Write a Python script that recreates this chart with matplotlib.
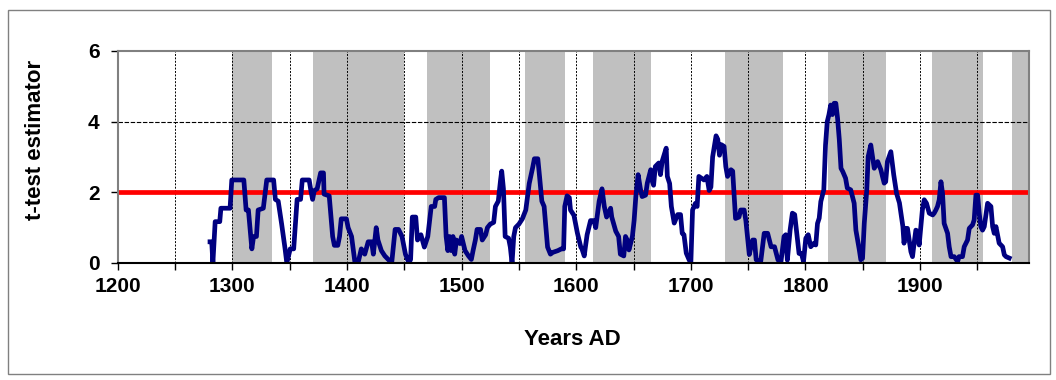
import matplotlib
matplotlib.use("Agg")
from matplotlib import pyplot as plt
from matplotlib.patches import Rectangle

plt.rcParams['font.family'] = ['Liberation Sans', 'DejaVu Sans']
plt.rcParams['font.weight'] = 'bold'

# years AD and t-test values
years = [1280.5, 1282, 1283, 1285, 1289, 1290, 1298, 1299.5, 1310, 1312, 1314, 1317, 1318.5, 1321,
         1322.5, 1327, 1330, 1336, 1337.5, 1340, 1343, 1346, 1347.5, 1350.5, 1353.5, 1356.5,
         1359.5, 1361, 1367, 1368.5, 1370, 1371.5, 1374, 1377,
         1379.5, 1380, 1384.5, 1387.5, 1389, 1392, 1393.5, 1395, 1399.5, 1401, 1404, 1407, 1410,
         1412.5, 1415.5, 1418.5, 1421.5, 1423, 1425.5, 1427, 1430, 1433, 1436, 1439, 1442, 1445,
         1448, 1451, 1454, 1455.5, 1457, 1460, 1461.5, 1464.5, 1467.5, 1470.5, 1473.5, 1476.5,
         1477.5, 1480, 1485, 1486.5, 1488, 1489.5, 1491, 1492.5, 1494, 1495.5, 1498.5, 1500, 1503,
         1506, 1508.5, 1510, 1512, 1513.5, 1516.5, 1518, 1521, 1522.5, 1525, 1528, 1529.5, 1532,
         1534, 1535, 1536.5, 1538, 1541, 1542.5, 1544, 1545.5, 1547, 1550, 1553, 1556, 1559, 1562,
         1563.5, 1566.5, 1568, 1570, 1572, 1575, 1577.5,
         1579.5, 1584, 1587, 1589, 1590, 1592, 1594, 1595, 1598, 1601, 1604, 1605, 1607, 1608,
         1609.5, 1612.5, 1615.5, 1617, 1620, 1622.5, 1624.5, 1626.5, 1630, 1631, 1634.5, 1637,
         1638.5, 1641.5, 1643, 1644.5, 1646, 1649, 1650.5, 1652, 1654, 1656, 1657.5, 1660.5, 1662,
         1665, 1666, 1667.5, 1669, 1672, 1673.5, 1675, 1678,
         1678.5, 1679.5, 1681.5, 1683, 1685.5, 1688.5, 1691, 1692.5, 1694, 1696, 1698.5, 1700,
         1701.5, 1704, 1705.5, 1707, 1711.5, 1714, 1716, 1717.5, 1719, 1722, 1723.5, 1725, 1726.5,
         1729, 1730.5, 1732, 1735, 1736.5, 1739, 1742, 1743.5, 1746.5, 1748, 1751, 1752.5, 1754,
         1755.5, 1757, 1761, 1764, 1767, 1770, 1773, 1776, 1778.5,
         1781.3, 1782.8, 1784.2, 1786.6, 1788.6, 1790.6, 1792.4, 1794.4, 1796.5, 1798.3, 1800.3,
         1802.4, 1804.6, 1807.5, 1809, 1810.5, 1812, 1813.4, 1816, 1817.5, 1819, 1820.5, 1822,
         1823.5, 1825, 1826.5, 1828, 1829.5, 1831, 1832.5, 1835, 1836.5, 1839.5, 1842.5, 1844,
         1847, 1848.3, 1849.8, 1851.3, 1853.5, 1854.7, 1857, 1858.5, 1860, 1863, 1865.8, 1867.2,
         1868.7, 1870, 1871.5, 1874.5, 1877, 1879.5, 1882,
         1885, 1886, 1887.6, 1889, 1890.5, 1892, 1893.4, 1894.8, 1896.3, 1897.7, 1899.2, 1900.7,
         1902, 1903.6, 1905.6, 1908, 1911, 1912.3, 1913.8, 1915.2, 1916.7, 1918.2, 1919.6, 1921,
         1924, 1925.4, 1927, 1929.8, 1932.7, 1934, 1937, 1938.5, 1941.4, 1942.9, 1945.8, 1947.2,
         1948.7, 1950.2, 1951.6, 1953, 1954.5, 1956, 1958.9, 1961.8, 1963.3, 1964.7, 1966.2, 1969,
         1972, 1973.5, 1975, 1977.8]
tvals = [0.6, 0.6, 0.0, 1.17, 1.17, 1.55, 1.55, 2.35, 2.35, 1.5, 1.5, 0.4, 0.75, 0.75,
         1.5, 1.55, 2.35, 2.35, 1.8, 1.75, 1.1, 0.4, 0.0, 0.4, 0.4, 1.8,
         1.8, 2.35, 2.35, 2.05, 1.8, 2.05, 2.1, 2.55,
         2.55, 1.95, 1.9, 0.75, 0.5, 0.5, 0.75, 1.25, 1.25, 1.0, 0.75, 0.0, 0.05,
         0.4, 0.25, 0.6, 0.6, 0.25, 1.0, 0.65, 0.35, 0.2, 0.1, 0.0, 0.95, 0.95,
         0.75, 0.25, 0.0, 0.1, 1.3, 1.3, 0.65, 0.8, 0.45, 0.75, 1.6, 1.6,
         1.8, 1.85, 1.85, 0.75, 0.35, 0.75, 0.35, 0.75, 0.25, 0.65, 0.55, 0.75, 0.35,
         0.2, 0.1, 0.35, 0.65, 0.95, 0.95, 0.65, 0.8, 1.0, 1.1, 1.15, 1.6, 1.75,
         2.35, 2.6, 2.1, 0.75, 0.7, 0.45, 0.0, 0.75, 1.0, 1.1, 1.25, 1.5, 2.25, 2.7,
         2.95, 2.95, 2.45, 1.75, 1.6, 0.45, 0.25,
         0.3, 0.35, 0.4, 0.4, 1.6, 1.9, 1.85, 1.5, 1.35, 0.85, 0.45, 0.4, 0.2, 0.45,
         0.8, 1.2, 1.2, 1.0, 1.75, 2.1, 1.6, 1.3, 1.55, 1.3, 0.9, 0.75,
         0.25, 0.2, 0.75, 0.65, 0.37, 0.75, 1.2, 1.88, 2.5, 2.1, 1.88, 1.92, 2.26,
         2.64, 2.35, 2.2, 2.73, 2.83, 2.5, 2.88, 3.2,
         3.25, 2.45, 2.25, 1.6, 1.13, 1.37, 1.37, 0.84, 0.8, 0.28, 0.09, 0.0,
         1.5, 1.69, 1.6, 2.45, 2.35, 2.45, 2.05, 2.15, 3.0, 3.6, 3.5, 3.05, 3.35,
         3.3, 2.73, 2.45, 2.64, 2.6, 1.26, 1.3, 1.5, 1.5, 1.2, 0.24, 0.46, 0.65,
         0.65, 0.09, 0.05, 0.84, 0.84, 0.46, 0.46, 0.09, 0.0,
         0.75, 0.8, 0.08, 0.93, 1.41, 1.37, 0.84, 0.27, 0.27, 0.04, 0.7,
         0.8, 0.46, 0.56, 0.51, 1.12, 1.27, 1.74, 2.07, 3.34, 4.0, 4.2, 4.47,
         4.2, 4.52, 4.52, 4.1, 3.5, 2.68, 2.59, 2.4, 2.12, 2.07, 1.69, 0.93,
         0.37, 0.09, 0.13, 1.12, 2.07, 3.01, 3.34, 3.01, 2.68, 2.87, 2.64, 2.45,
         2.26, 2.3, 2.87, 3.15, 2.5, 1.97, 1.7,
         1.03, 0.56, 0.98, 0.98, 0.65, 0.32, 0.18, 0.56, 0.93, 0.9, 0.51, 1.03,
         1.5, 1.79, 1.69, 1.41, 1.36, 1.41, 1.5, 1.6, 1.79, 2.3, 1.97, 1.12,
         0.84, 0.46, 0.18, 0.18, 0.04, 0.18, 0.18, 0.46, 0.65, 0.98, 1.08, 1.22,
         1.92, 1.92, 1.41, 1.03, 0.93, 1.03, 1.69, 1.6, 1.03, 0.84, 1.03, 0.56,
         0.46, 0.23, 0.18, 0.14]

# shaded periods (start, end)
band_start = [1300, 1370, 1470, 1555, 1615, 1730, 1820, 1910, 1980]
band_end = [1335, 1450, 1525, 1590, 1665, 1780, 1870, 1955, 1995]

threshold = 2.0

fig = plt.figure(figsize=(10.56, 3.8), dpi=100)
ax = fig.add_axes([0.1115, 0.3079, 0.8629, 0.5579])

for s, e in zip(band_start, band_end):
        ax.axvspan(s, e, facecolor="#c0c0c0", edgecolor="none", zorder=1)

for x in range(1250, 2000, 50):
        ax.axvline(x, color="black", linestyle=(0, (2, 1.5)), linewidth=0.7, zorder=2)
for y in [2, 4]:
        ax.axhline(y, color="black", linestyle=(0, (4, 1.5)), linewidth=0.8, zorder=2)

ax.axhline(threshold, color="#ff0000", linewidth=3.4, zorder=3)
ax.plot(years, tvals, color="#000080", linewidth=3.4, zorder=4, solid_joinstyle="round")

ax.set_xlim(1200, 1995)
ax.set_ylim(0, 6)
ax.set_xticks(range(1200, 2000, 100))
ax.set_xticks(range(1250, 2000, 100), minor=True)
ax.set_yticks([0, 2, 4, 6])
ax.tick_params(axis="both", which="both", direction="out", length=5, width=1, colors="black",
               labelsize=15)
ax.tick_params(axis="x", pad=5)
ax.tick_params(axis="y", pad=8)

for side in ["top", "right", "left"]:
        ax.spines[side].set_color("#808080")
        ax.spines[side].set_linewidth(1.5)
ax.spines["bottom"].set_color("black")
ax.spines["bottom"].set_linewidth(1.5)
for sp in ax.spines.values():
        sp.set_zorder(5)

ax.set_xlabel("Years AD", fontsize=16, fontweight="bold")
ax.set_ylabel("t-test estimator", fontsize=16, fontweight="bold")
ax.xaxis.set_label_coords(0.499, -0.31)
ax.yaxis.set_label_coords(-0.079, 0.58)

fig.patches.append(Rectangle((8 / 1056, 1 - 374 / 380), 1042 / 1056, 364 / 380,
                             transform=fig.transFigure, fill=False, edgecolor="#808080",
                             linewidth=1))

plt.savefig("out.png", dpi=100)
